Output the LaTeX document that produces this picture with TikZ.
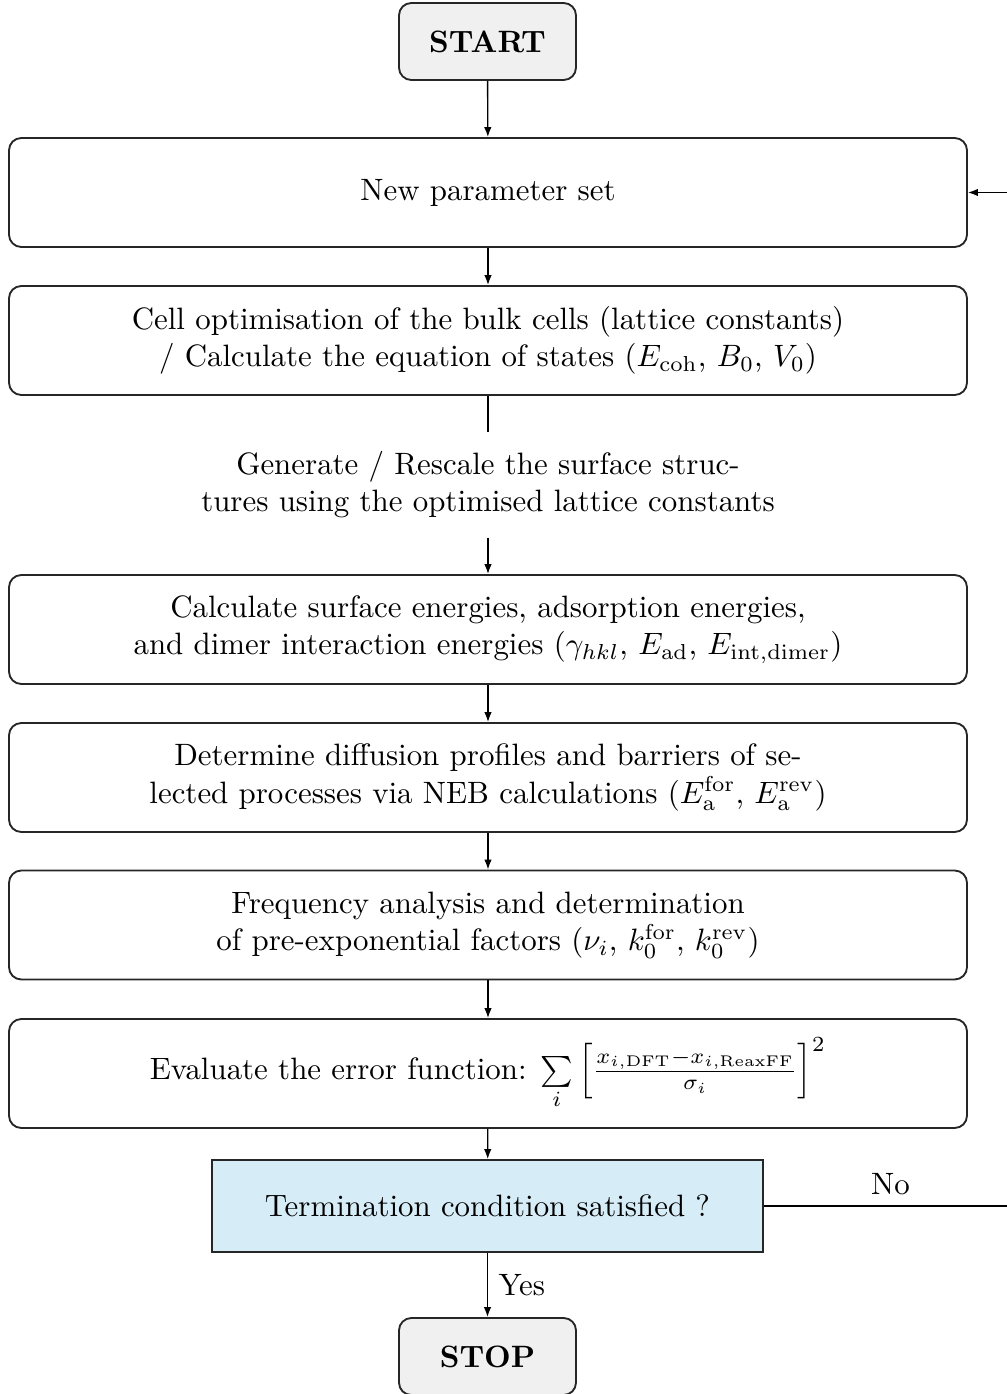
\documentclass[tikz,border=0pt]{standalone}
\usetikzlibrary{arrows.meta}
\definecolor{startgray}{RGB}{240,240,240}
\definecolor{decblue}{RGB}{214,237,248}
\def\px{0.3236pt}
\tikzset{
  mainbox/.style={draw=black!85, line width=0.6pt, rounded corners=4pt, minimum width={958*\px}, minimum height={109*\px}, inner sep=0pt, align=center},
  termbox/.style={draw=black!85, line width=0.6pt, rounded corners=4pt, fill=startgray, minimum width={177*\px}, minimum height={77*\px}, inner sep=0pt, font=\bfseries},
  decbox/.style={draw=black!85, line width=0.6pt, fill=decblue, minimum width={551*\px}, minimum height={92*\px}, inner sep=0pt, align=center},
  plainbox/.style={minimum width={600*\px}, minimum height={104*\px}, inner sep=0pt, align=center},
  flow/.style={line width=0.45pt, -{Latex[length=3.2pt,width=2.4pt]}},
  line/.style={line width=0.45pt}
}
\begin{document}
\begin{tikzpicture}[x=\px, y=-\px]
\useasboundingbox (0,0) rectangle (1006,1394);
\node[termbox] (start) at (487.5,41.5) {START};
\node[mainbox] (b1) at (488,192.5) {New parameter set};
\node[mainbox] (b2) at (488,340.5) {Cell optimisation of the bulk cells (lattice constants)\\ / Calculate the equation of states ($E_\mathrm{coh}$, $B_0$, $V_0$)};
\node[plainbox] (gen) at (488,485) {Generate / Rescale the surface struc-\\tures using the optimised lattice constants};
\node[mainbox] (b3) at (488,629.5) {Calculate surface energies, adsorption energies,\\ and dimer interaction energies ($\gamma_{hkl}$, $E_\mathrm{ad}$, $E_\mathrm{int,dimer}$)};
\node[mainbox] (b4) at (488,777.5) {Determine diffusion profiles and barriers of se-\\lected processes via NEB calculations ($E_\mathrm{a}^\mathrm{for}$, $E_\mathrm{a}^\mathrm{rev}$)};
\node[mainbox] (b5) at (488,925) {Frequency analysis and determination\\ of pre-exponential factors ($\nu_i$, $k_0^\mathrm{for}$, $k_0^\mathrm{rev}$)};
\node[mainbox] (b6) at (488,1073.5) {Evaluate the error function: $\sum\limits_{i}\,\Bigl[\frac{x_{i,\mathrm{DFT}}-x_{i,\mathrm{ReaxFF}}}{\sigma_i}\Bigr]^2$};
\node[decbox] (dec) at (487.5,1206) {Termination condition satisfied ?};
\node[termbox] (stop) at (487.5,1356.5) {STOP};
\coordinate (c1) at (1017,1206);
\coordinate (c2) at (1017,192.5);
\draw[flow] (start) -- (b1);
\draw[flow] (b1) -- (b2);
\draw[line] (b2) -- (gen);
\draw[flow] (gen) -- (b3);
\draw[flow] (b3) -- (b4);
\draw[flow] (b4) -- (b5);
\draw[flow] (b5) -- (b6);
\draw[flow] (b6) -- (dec);
\draw[flow] (dec) -- node[right, pos=0.5] {Yes} (stop);
\draw[line] (dec.east) -- node[above, pos=0.5] {No} (c1);
\draw[flow] (c1) -- (c2) -- (b1.east);
\end{tikzpicture}
\end{document}
